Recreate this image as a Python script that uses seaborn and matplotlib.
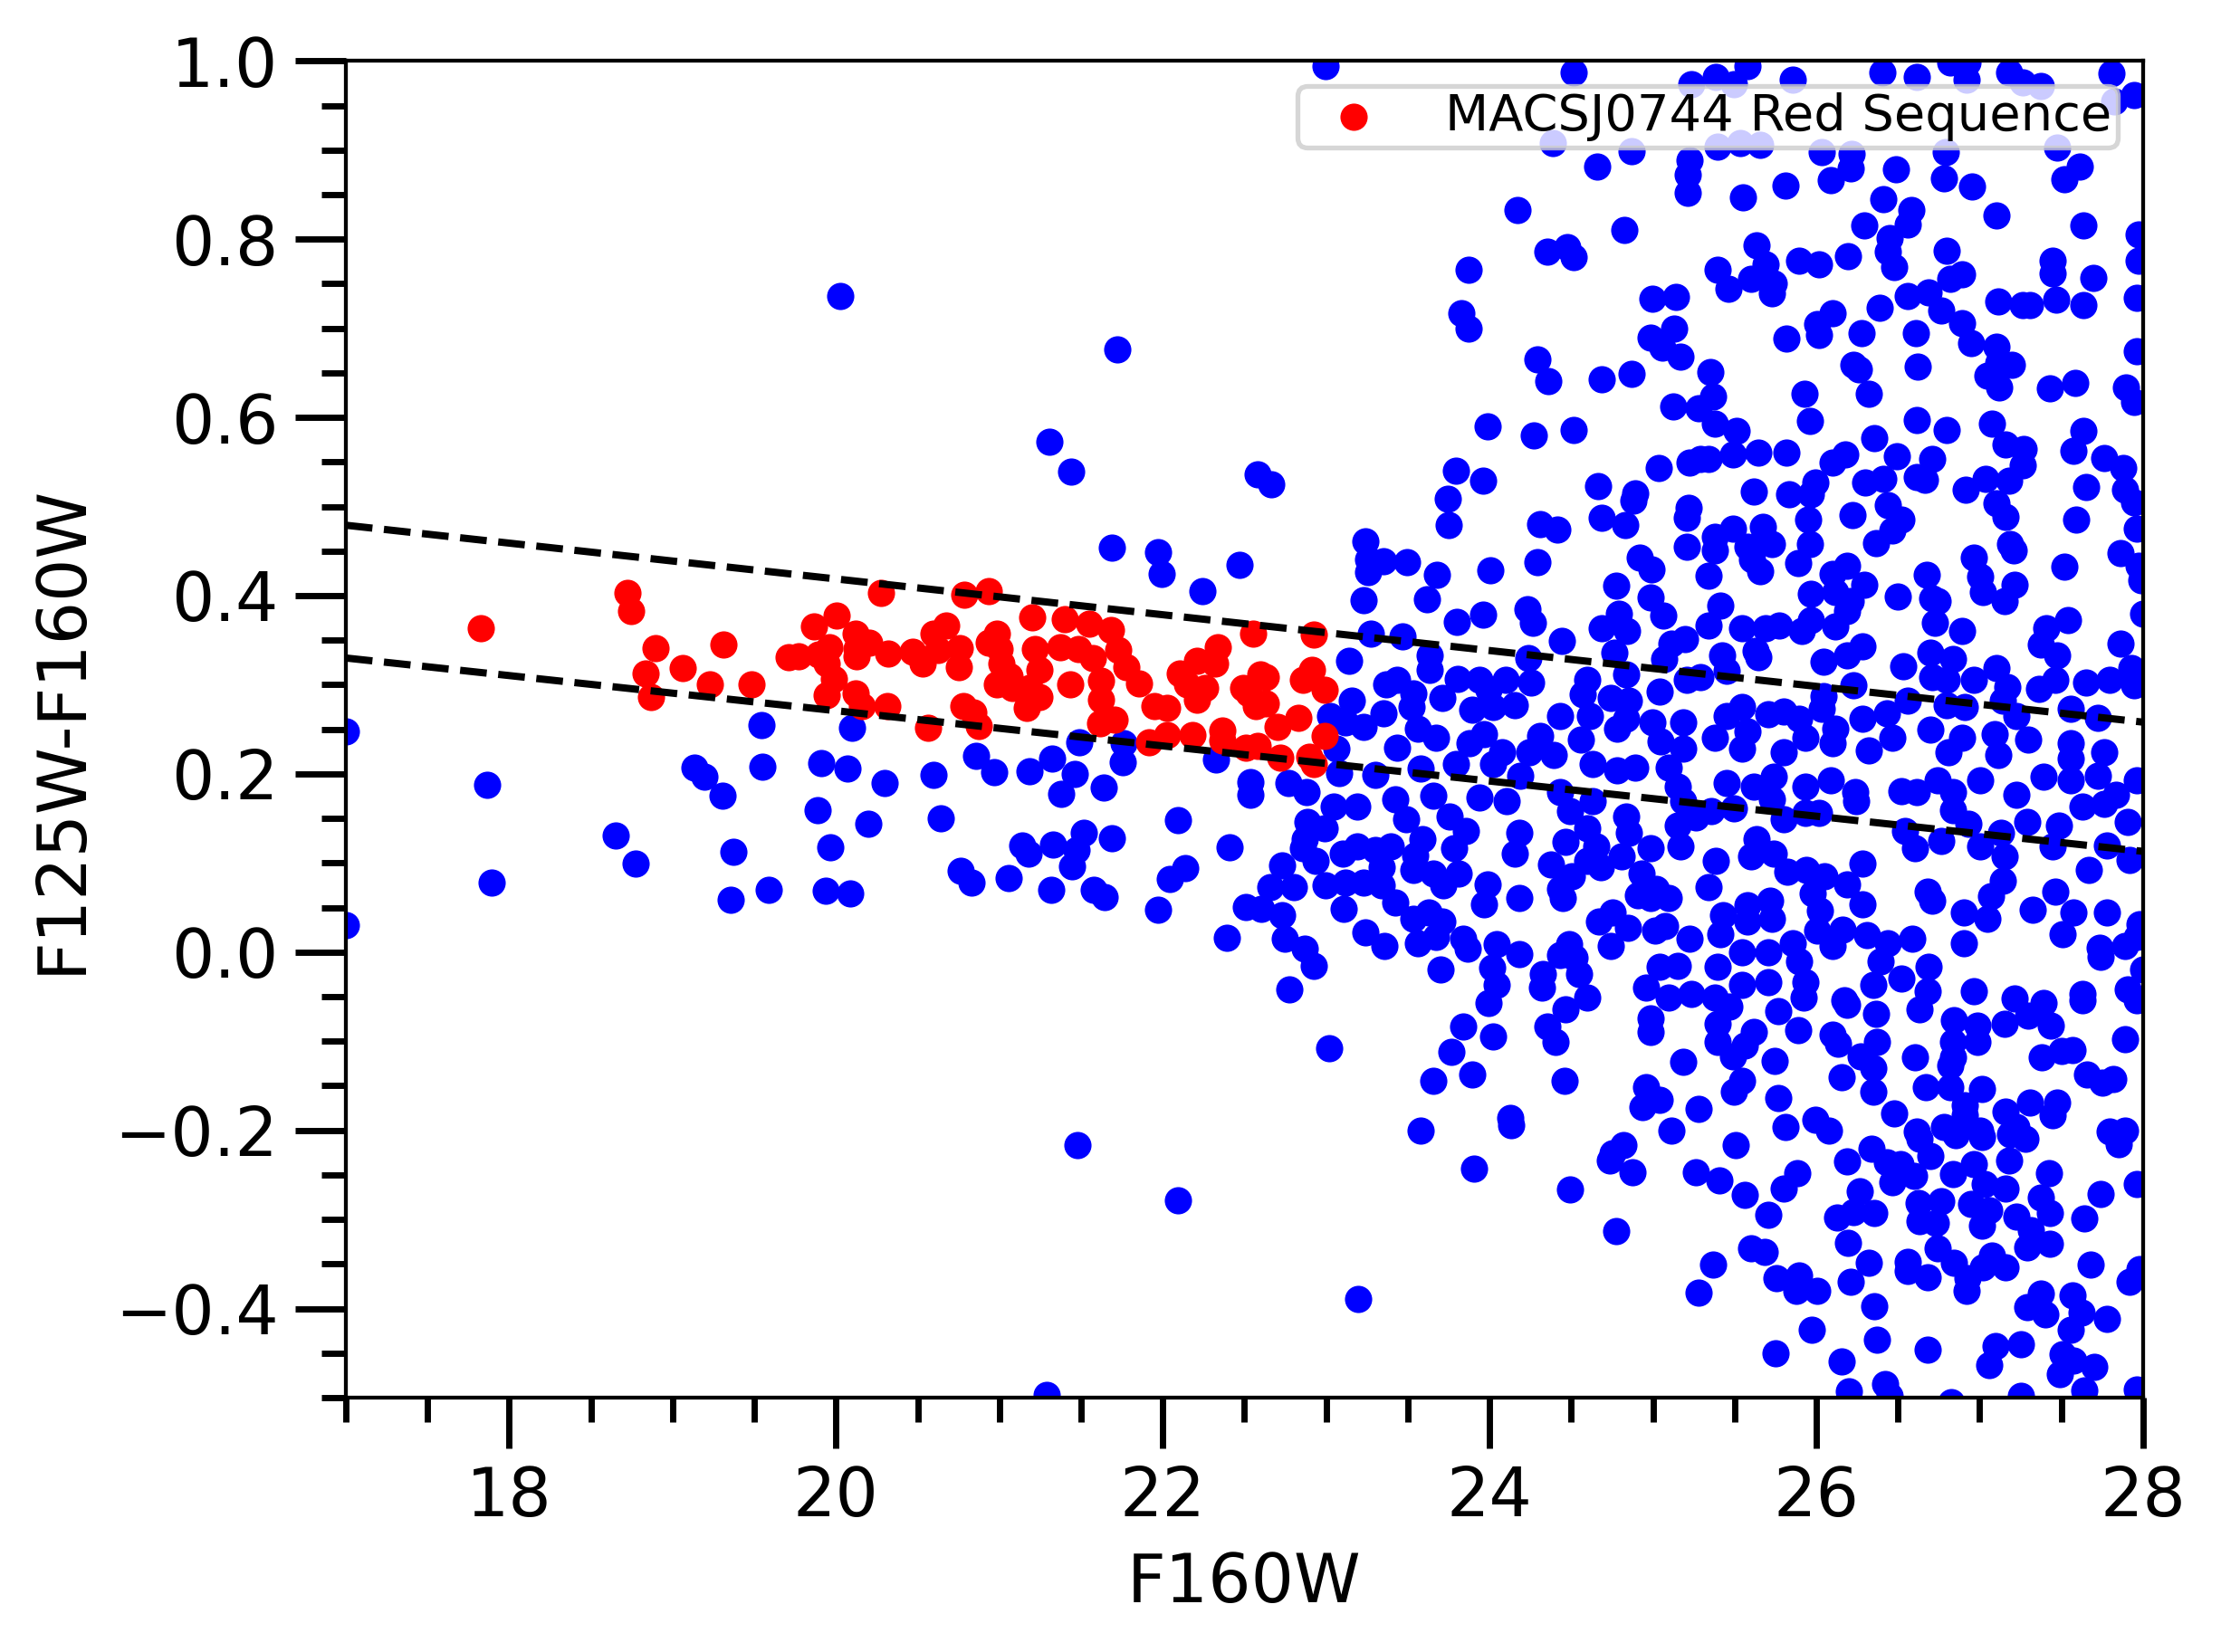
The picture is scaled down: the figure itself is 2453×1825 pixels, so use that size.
import pandas as pd
import seaborn as sns
import matplotlib.pyplot as plt
from matplotlib.ticker import MultipleLocator

# F160W magnitude and F125W-F160W colour of the field sources (blue)
# bright / sparse part of the diagram
field_bright = [
    (17.00, 0.248), (17.00, 0.030), (17.866, 0.188), (17.891, 0.078), (18.654, 0.131),
    (18.775, 0.099), (19.133, 0.207), (19.195, 0.197), (19.304, 0.175), (19.374, 0.113),
    (19.356, 0.059), (19.544, 0.255), (19.547, 0.208), (19.590, 0.070), (19.910, 0.212),
    (19.885, 0.159), (19.963, 0.118), (19.937, 0.069), (20.024, 0.736), (20.097, 0.252),
    (20.072, 0.206), (20.085, 0.066), (20.197, 0.144), (20.299, 0.190), (20.595, 0.199),
    (20.639, 0.150), (20.761, 0.091), (20.830, 0.078), (20.859, 0.220), (20.968, 0.202),
    (21.055, 0.083), (21.142, 0.120), (21.186, 0.203), (21.177, 0.110), (21.325, 0.217),
    (21.326, 0.121), (21.318, 0.070), (21.381, 0.178), (21.459, 0.200), (21.487, 0.235),
    (21.446, 0.096), (21.472, 0.115), (21.515, 0.134), (21.576, 0.070), (21.645, 0.062),
    (21.637, 0.185), (21.688, 0.128), (21.754, 0.213), (21.760, 0.234), (21.974, 0.047),
    (22.043, 0.082), (22.095, 0.148), (22.138, 0.094), (22.327, 0.216), (22.390, 0.016),
    (22.410, 0.118), (22.510, 0.051), (22.538, 0.191), (22.538, 0.176), (21.307, 0.573),
    (21.437, 0.539), (21.723, 0.676), (21.689, 0.454), (21.969, 0.449), (21.994, 0.424),
    (22.243, 0.405), (22.470, 0.435), (21.480, -0.217), (22.095, -0.279), (21.290, -0.497),
]

# faint sources, colour 0.6 .. 1.0
field_top = [
    (22.998, 0.994), (24.516, 0.987), (25.233, 0.974), (24.389, 0.908), (24.871, 0.899),
    (24.660, 0.882), (25.226, 0.889), (25.215, 0.872), (25.215, 0.852), (24.173, 0.833),
    (24.827, 0.810), (24.356, 0.786), (24.476, 0.791), (24.516, 0.780), (23.874, 0.766),
    (24.998, 0.733), (25.141, 0.735), (23.829, 0.717), (23.874, 0.700), (24.984, 0.689),
    (25.131, 0.700), (25.057, 0.678), (25.168, 0.668), (24.291, 0.665), (24.361, 0.641),
    (24.688, 0.643), (24.871, 0.649), (25.126, 0.612), (25.279, 0.610),
    (25.386, 0.982), (25.580, 0.994), (25.497, 0.974), (25.857, 0.979), (26.402, 0.987),
    (26.614, 0.982), (26.818, 0.998), (26.919, 0.979), (26.928, 0.998), (27.178, 0.987),
    (27.372, 0.972), (27.261, 0.976), (27.806, 0.986), (27.824, 0.955), (27.944, 0.962),
    (25.395, 0.904), (25.534, 0.908), (25.654, 0.906), (26.033, 0.898), (26.217, 0.896),
    (26.208, 0.879), (26.088, 0.866), (26.485, 0.878), (26.790, 0.898), (26.781, 0.868),
    (26.952, 0.859), (27.473, 0.903), (27.612, 0.881), (27.520, 0.867), (25.552, 0.847),
    (25.811, 0.860), (26.411, 0.845), (26.581, 0.833), (26.559, 0.816), (26.291, 0.815),
    (26.448, 0.801), (26.439, 0.786), (26.476, 0.769), (27.104, 0.827), (27.636, 0.815),
    (27.972, 0.805), (25.636, 0.793), (25.691, 0.772), (25.395, 0.766), (25.599, 0.756),
    (25.460, 0.744), (25.737, 0.750), (25.728, 0.739), (25.894, 0.776), (26.014, 0.772),
    (26.193, 0.781), (26.799, 0.787), (26.891, 0.761), (26.818, 0.756), (27.446, 0.776),
    (27.446, 0.762), (27.695, 0.757), (27.972, 0.776), (26.559, 0.736), (26.688, 0.740),
    (26.762, 0.720), (26.389, 0.723), (26.097, 0.717), (26.005, 0.705), (26.014, 0.693),
    (25.817, 0.688), (26.278, 0.695), (26.611, 0.695), (26.891, 0.706), (26.947, 0.683),
    (27.104, 0.679), (27.113, 0.661), (27.196, 0.659), (27.048, 0.647), (27.122, 0.634),
    (27.113, 0.730), (27.261, 0.726), (27.307, 0.726), (27.470, 0.732), (27.636, 0.726),
    (27.963, 0.734), (27.963, 0.674), (26.227, 0.659), (26.258, 0.654), (26.620, 0.657),
    (25.349, 0.651), (25.368, 0.623), (25.927, 0.627), (26.323, 0.627), (27.427, 0.633),
    (27.584, 0.639), (27.898, 0.634), (27.944, 0.617),
]

# faint sources, colour 0.2 .. 0.6
field_mid = [
    (23.986, 0.590), (24.273, 0.580), (24.516, 0.586), (22.582, 0.536), (22.666, 0.525),
    (23.792, 0.540), (23.958, 0.529), (23.746, 0.509), (23.752, 0.479), (24.310, 0.480),
    (24.417, 0.474), (24.666, 0.523), (24.891, 0.515), (24.882, 0.507), (24.688, 0.487),
    (24.832, 0.479), (25.035, 0.543), (25.224, 0.549), (25.288, 0.553), (25.218, 0.499),
    (25.205, 0.487), (25.205, 0.455), (23.242, 0.461), (23.257, 0.441), (23.349, 0.439),
    (23.497, 0.438), (23.257, 0.426), (23.229, 0.395), (23.678, 0.423), (23.617, 0.396),
    (24.005, 0.428), (24.295, 0.438), (24.919, 0.443), (24.993, 0.429), (24.777, 0.411),
    (24.984, 0.398), (25.063, 0.378), (23.802, 0.371), (23.962, 0.379), (24.232, 0.385),
    (24.263, 0.370), (24.793, 0.380), (24.688, 0.363), (24.841, 0.360), (23.275, 0.357),
    (23.465, 0.354), (23.140, 0.327), (24.443, 0.349), (24.236, 0.330), (24.762, 0.336),
    (25.113, 0.346), (25.196, 0.351), (25.067, 0.329), (23.635, 0.333), (23.635, 0.317),
    (23.367, 0.300), (23.432, 0.306), (23.534, 0.290), (23.709, 0.285), (23.805, 0.307),
    (23.940, 0.306), (24.097, 0.306), (24.254, 0.302), (23.995, 0.294), (23.894, 0.272),
    (24.023, 0.275), (24.152, 0.277), (23.155, 0.282), (23.026, 0.265), (23.118, 0.258),
    (23.229, 0.253), (23.349, 0.268), (23.525, 0.275), (23.561, 0.251), (23.063, 0.228),
    (23.432, 0.229), (23.672, 0.240), (23.968, 0.245), (23.875, 0.234), (24.079, 0.224),
    (24.310, 0.243), (24.245, 0.224), (24.393, 0.221), (24.429, 0.265), (24.568, 0.289),
    (24.596, 0.306), (24.744, 0.285), (24.836, 0.312), (24.855, 0.282), (24.614, 0.265),
    (24.781, 0.251), (24.559, 0.238), (24.836, 0.262), (24.998, 0.258), (25.039, 0.292),
    (25.187, 0.258), (25.205, 0.306), (25.288, 0.309), (25.048, 0.236), (25.187, 0.228),
    (24.633, 0.211), (24.781, 0.204), (24.891, 0.207), (25.094, 0.207), (24.023, 0.211),
    (23.580, 0.206), (23.303, 0.199), (23.081, 0.201), (23.792, 0.211),
    (25.377, 0.593), (25.515, 0.585), (25.959, 0.596), (26.614, 0.597), (26.799, 0.586),
    (27.076, 0.593), (27.636, 0.585), (25.340, 0.553), (25.488, 0.558), (25.645, 0.560),
    (25.817, 0.560), (26.352, 0.577), (26.491, 0.556), (26.707, 0.553), (26.180, 0.558),
    (26.097, 0.549), (27.159, 0.570), (27.270, 0.565), (27.575, 0.563), (27.760, 0.554),
    (27.880, 0.543), (25.617, 0.517), (25.835, 0.514), (25.996, 0.527), (25.968, 0.514),
    (26.297, 0.527), (26.411, 0.531), (26.614, 0.533), (26.666, 0.530), (27.261, 0.546),
    (27.178, 0.529), (27.039, 0.531), (26.916, 0.519), (27.104, 0.504), (27.159, 0.488),
    (27.649, 0.522), (27.889, 0.519), (27.944, 0.505), (27.593, 0.485), (25.950, 0.485),
    (26.223, 0.490), (26.439, 0.502), (26.522, 0.485), (26.467, 0.473), (26.365, 0.459),
    (27.963, 0.475), (25.377, 0.466), (25.488, 0.475), (25.672, 0.477), (25.728, 0.458),
    (25.377, 0.451), (25.580, 0.455), (25.608, 0.441), (25.654, 0.427), (25.959, 0.458),
    (25.890, 0.437), (25.340, 0.422), (27.187, 0.458), (27.206, 0.451), (26.962, 0.443),
    (27.519, 0.433), (27.861, 0.448), (27.972, 0.434), (26.190, 0.434), (26.097, 0.424),
    (26.291, 0.412), (25.968, 0.402), (26.116, 0.404), (26.208, 0.394), (26.190, 0.383),
    (26.500, 0.399), (26.675, 0.423), (27.002, 0.421), (27.021, 0.404), (27.214, 0.412),
    (27.150, 0.394), (26.707, 0.397), (26.744, 0.394), (27.990, 0.417), (25.414, 0.389),
    (25.340, 0.366), (25.543, 0.363), (25.691, 0.363), (25.774, 0.366), (25.913, 0.360),
    (25.968, 0.373), (26.116, 0.365), (26.725, 0.370), (26.891, 0.360), (27.409, 0.363),
    (27.538, 0.373), (27.999, 0.380), (27.372, 0.345), (27.473, 0.333), (27.861, 0.346),
    (25.626, 0.338), (25.645, 0.331), (26.282, 0.343), (26.190, 0.333), (26.042, 0.326),
    (25.423, 0.333), (25.451, 0.316), (26.698, 0.336), (26.836, 0.329), (26.531, 0.321),
    (26.707, 0.309), (26.799, 0.306), (26.965, 0.306), (27.104, 0.319), (27.169, 0.297),
    (27.926, 0.319), (27.944, 0.299), (27.797, 0.306), (27.649, 0.302), (27.464, 0.306),
    (27.362, 0.295), (27.556, 0.273), (27.723, 0.263), (26.227, 0.299), (26.042, 0.287),
    (26.033, 0.273), (26.559, 0.282), (26.799, 0.277), (26.910, 0.275), (27.141, 0.282),
    (27.224, 0.265), (25.543, 0.275), (25.451, 0.265), (25.709, 0.267), (25.802, 0.270),
    (25.894, 0.262), (25.580, 0.248), (25.931, 0.241), (26.116, 0.251), (26.282, 0.262),
    (26.430, 0.268), (26.467, 0.241), (26.319, 0.226), (25.377, 0.241), (25.543, 0.228),
    (25.802, 0.224), (26.097, 0.234), (26.698, 0.250), (26.891, 0.241), (26.808, 0.224),
    (27.094, 0.245), (27.113, 0.221), (27.298, 0.238), (27.556, 0.234), (27.556, 0.217),
    (27.760, 0.224),
]

# faint sources, colour -0.2 .. 0.2
field_low = [
    (22.767, 0.190), (22.878, 0.180), (23.192, 0.163), (23.044, 0.163), (22.887, 0.146),
    (22.989, 0.139), (22.869, 0.127), (22.860, 0.117), (23.423, 0.171), (23.488, 0.149),
    (23.654, 0.175), (23.755, 0.152), (23.857, 0.136), (23.783, 0.117), (23.940, 0.173),
    (24.106, 0.169), (24.189, 0.198), (23.589, 0.127), (23.543, 0.108), (24.180, 0.134),
    (24.153, 0.110), (24.430, 0.180), (24.494, 0.158), (24.633, 0.169), (24.596, 0.139),
    (24.467, 0.124), (24.651, 0.119), (24.374, 0.098), (24.596, 0.102), (24.679, 0.095),
    (24.836, 0.152), (24.855, 0.134), (24.808, 0.107), (24.984, 0.117), (25.150, 0.186),
    (25.187, 0.169), (25.261, 0.151), (25.150, 0.142), (25.168, 0.119), (22.730, 0.097),
    (22.656, 0.073), (22.804, 0.073), (22.934, 0.102), (23.100, 0.110), (23.192, 0.119),
    (23.303, 0.115), (23.395, 0.119), (23.340, 0.095), (23.229, 0.078), (22.998, 0.075),
    (23.118, 0.078), (23.340, 0.075), (23.534, 0.092), (23.654, 0.088), (23.718, 0.075),
    (23.811, 0.088), (23.986, 0.076), (23.968, 0.054), (24.180, 0.061), (24.430, 0.071),
    (24.448, 0.061), (24.504, 0.085), (24.928, 0.088), (24.910, 0.064), (24.984, 0.061),
    (25.094, 0.061), (25.020, 0.071), (22.601, 0.048), (22.730, 0.041), (23.109, 0.048),
    (23.423, 0.056), (23.534, 0.037), (23.626, 0.044), (23.709, 0.034), (22.749, 0.015),
    (22.869, 0.004), (22.924, -0.015), (22.776, -0.042), (23.238, 0.022), (23.358, 0.007),
    (23.561, 0.010), (23.672, 0.017), (23.838, 0.015), (23.866, 0.004), (23.700, -0.020),
    (24.042, 0.009), (24.180, -0.002), (24.014, -0.018), (24.042, -0.037), (23.996, -0.057),
    (24.670, 0.034), (24.753, 0.044), (24.845, 0.027), (24.744, 0.007), (25.012, 0.024),
    (25.076, 0.029), (25.224, 0.015), (24.485, 0.009), (24.430, -0.003), (24.522, -0.006),
    (24.328, -0.025), (24.550, -0.025), (24.319, -0.040), (24.596, -0.051), (24.467, -0.064),
    (25.039, -0.017), (25.150, -0.015), (24.956, -0.040), (25.094, -0.051), (25.233, -0.047),
    (24.984, -0.074), (24.984, -0.090), (23.838, -0.084), (24.020, -0.095), (23.765, -0.112),
    (23.894, -0.137), (23.654, -0.144), (23.020, -0.108), (24.356, -0.084), (24.402, -0.101),
    (24.457, -0.144), (25.187, -0.123), (24.956, -0.152), (25.039, -0.166), (24.937, -0.174),
    (25.279, -0.176), (24.125, -0.186), (24.134, -0.194), (23.576, -0.200), (25.113, -0.200),
    (25.451, 0.190), (25.617, 0.186), (25.737, 0.197), (25.931, 0.186), (26.088, 0.193),
    (25.728, 0.171), (25.802, 0.149), (25.931, 0.156), (26.014, 0.156), (25.497, 0.161),
    (25.358, 0.158), (26.236, 0.180), (26.245, 0.169), (26.522, 0.181), (26.614, 0.180),
    (26.744, 0.193), (26.836, 0.180), (26.836, 0.159), (27.002, 0.193), (27.224, 0.176),
    (27.390, 0.197), (27.556, 0.193), (27.723, 0.198), (27.963, 0.193), (27.630, 0.163),
    (27.760, 0.166), (27.834, 0.176), (27.907, 0.146), (27.289, 0.146), (27.483, 0.142),
    (26.541, 0.136), (26.606, 0.117), (26.762, 0.125), (26.929, 0.144), (27.002, 0.119),
    (27.132, 0.134), (27.150, 0.107), (27.446, 0.119), (27.778, 0.120), (27.917, 0.103),
    (27.667, 0.092), (25.636, 0.127), (25.599, 0.107), (25.737, 0.110), (25.386, 0.102),
    (25.340, 0.073), (25.820, 0.090), (25.940, 0.092), (26.051, 0.085), (26.282, 0.099),
    (25.977, 0.066), (26.190, 0.076), (26.282, 0.054), (26.024, 0.046), (26.679, 0.068),
    (26.707, 0.058), (27.141, 0.080), (27.067, 0.063), (26.901, 0.044), (27.048, 0.037),
    (26.901, 0.010), (27.464, 0.068), (27.326, 0.047), (27.575, 0.044), (27.510, 0.020),
    (27.778, 0.044), (27.981, 0.031), (27.732, 0.005), (27.741, -0.005), (27.889, 0.007),
    (27.963, 0.017), (27.999, -0.020), (25.580, 0.053), (25.719, 0.058), (25.432, 0.041),
    (25.728, 0.037), (25.580, 0.034), (25.414, 0.020), (25.543, 0.000), (25.709, 0.000),
    (25.857, 0.010), (26.005, 0.024), (26.097, 0.007), (26.162, 0.025), (26.310, 0.019),
    (26.439, 0.010), (26.587, 0.015), (26.393, -0.010), (26.522, -0.030), (26.688, -0.017),
    (26.679, -0.044), (26.633, -0.064), (26.347, -0.037), (26.365, -0.069), (26.171, -0.054),
    (26.190, -0.059), (25.395, -0.017), (25.543, -0.037), (25.709, -0.034), (25.894, -0.010),
    (25.931, -0.034), (25.922, -0.051), (25.469, -0.061), (25.377, -0.051), (25.765, -0.066),
    (25.395, -0.081), (25.617, -0.090), (25.562, -0.105), (25.395, -0.101), (25.488, -0.117),
    (25.890, -0.088), (26.097, -0.093), (26.134, -0.103), (25.746, -0.122), (26.374, -0.101),
    (26.273, -0.117), (26.347, -0.130), (26.153, -0.140), (25.543, -0.144), (25.497, -0.157),
    (25.765, -0.164), (26.347, -0.157), (26.476, -0.181), (25.996, -0.188), (26.079, -0.200),
    (25.811, -0.196), (26.605, -0.118), (26.965, -0.044), (27.215, -0.052), (27.390, -0.057),
    (27.298, -0.071), (27.150, -0.081), (27.437, -0.083), (27.630, -0.047), (27.630, -0.054),
    (27.907, -0.042), (27.963, -0.054), (27.889, -0.098), (26.845, -0.076), (26.984, -0.083),
    (26.984, -0.101), (26.836, -0.101), (26.836, -0.118), (26.818, -0.127), (27.381, -0.118),
    (27.501, -0.111), (27.566, -0.110), (27.658, -0.137), (27.815, -0.142), (27.750, -0.147),
    (26.670, -0.152), (26.818, -0.152), (27.012, -0.154), (26.910, -0.172), (26.910, -0.183),
    (27.159, -0.179), (27.307, -0.169), (27.473, -0.169), (27.446, -0.183), (26.781, -0.196),
    (27.002, -0.200), (27.224, -0.196), (27.797, -0.201), (27.889, -0.200), (26.614, -0.201),
]

# faint sources, colour below -0.2
field_bottom = [
    (23.907, -0.243), (24.494, -0.266), (24.734, -0.234), (24.817, -0.217), (24.753, -0.226),
    (24.877, -0.247), (25.261, -0.247), (24.777, -0.313), (23.198, -0.389), (25.279, -0.382),
    (25.506, -0.217), (25.405, -0.256), (25.562, -0.272), (25.802, -0.265), (25.885, -0.248),
    (25.709, -0.295), (25.599, -0.332), (25.682, -0.337), (25.368, -0.351), (25.756, -0.366),
    (25.894, -0.363), (25.876, -0.380), (26.005, -0.380), (26.186, -0.235), (26.337, -0.221),
    (26.430, -0.236), (26.513, -0.238), (26.467, -0.258), (26.596, -0.251), (26.264, -0.268),
    (26.125, -0.298), (26.227, -0.292), (26.356, -0.293), (26.193, -0.326), (26.319, -0.349),
    (26.212, -0.370), (26.356, -0.397), (26.374, -0.435), (25.974, -0.424), (25.752, -0.450),
    (26.153, -0.459), (26.421, -0.485), (26.199, -0.493), (26.679, -0.446), (26.633, -0.210),
    (26.698, -0.229), (26.855, -0.205), (27.012, -0.207), (27.187, -0.204), (27.279, -0.210),
    (27.178, -0.234), (27.424, -0.248), (27.852, -0.216), (27.963, -0.260), (26.836, -0.249),
    (26.965, -0.238), (27.030, -0.260), (27.159, -0.265), (26.624, -0.282), (26.762, -0.280),
    (26.633, -0.302), (26.734, -0.304), (26.947, -0.283), (27.058, -0.290), (27.012, -0.307),
    (27.224, -0.297), (27.372, -0.276), (27.427, -0.293), (27.289, -0.331), (27.427, -0.327),
    (27.316, -0.312), (27.741, -0.271), (27.640, -0.299), (26.744, -0.332), (26.559, -0.348),
    (26.559, -0.358), (26.679, -0.365), (26.845, -0.349), (26.919, -0.380), (26.928, -0.366),
    (27.076, -0.341), (27.021, -0.354), (27.159, -0.354), (27.677, -0.351), (27.917, -0.370),
    (27.981, -0.356), (27.372, -0.383), (27.289, -0.398), (27.400, -0.407), (27.566, -0.385),
    (27.621, -0.405), (27.778, -0.412), (27.556, -0.424), (27.095, -0.442), (27.252, -0.440),
    (27.058, -0.463), (27.510, -0.451), (27.575, -0.458), (27.704, -0.466), (27.492, -0.474),
    (27.640, -0.492), (27.252, -0.498), (26.827, -0.505), (27.963, -0.491), (26.448, -0.498),
]

# red-sequence members of MACSJ0744
red_seq = [
    (17.827, 0.363), (18.723, 0.403), (18.744, 0.383), (18.894, 0.341), (18.832, 0.313),
    (18.869, 0.286), (19.062, 0.319), (19.310, 0.345), (19.226, 0.300), (19.481, 0.300),
    (19.708, 0.331), (19.771, 0.332), (19.864, 0.365), (20.004, 0.378), (19.957, 0.342),
    (19.895, 0.334), (19.942, 0.324), (19.988, 0.307), (19.942, 0.288), (20.119, 0.357),
    (20.128, 0.340), (20.206, 0.347), (20.128, 0.332), (20.119, 0.290), (20.159, 0.276),
    (20.274, 0.403), (20.321, 0.335), (20.315, 0.276), (20.470, 0.337), (20.532, 0.324),
    (20.595, 0.357), (20.672, 0.366), (20.626, 0.339), (20.750, 0.320), (20.756, 0.341),
    (20.787, 0.401), (20.937, 0.405), (20.937, 0.347), (20.983, 0.357), (20.999, 0.340),
    (21.014, 0.324), (21.061, 0.310), (20.983, 0.300), (21.077, 0.296), (20.781, 0.276),
    (20.843, 0.269), (20.874, 0.254), (20.563, 0.252), (21.201, 0.376), (21.217, 0.340),
    (21.248, 0.317), (21.186, 0.296), (21.170, 0.274), (21.248, 0.286), (21.372, 0.342),
    (21.403, 0.374), (21.481, 0.340), (21.552, 0.368), (21.574, 0.330), (21.434, 0.300),
    (21.620, 0.305), (21.683, 0.361), (21.730, 0.339), (21.776, 0.320), (21.620, 0.283),
    (21.614, 0.257), (21.708, 0.261), (21.854, 0.301), (21.947, 0.276), (22.025, 0.274),
    (22.025, 0.244), (21.916, 0.235), (22.103, 0.313), (22.149, 0.300), (22.212, 0.327),
    (22.212, 0.283), (22.180, 0.244), (22.258, 0.296), (22.336, 0.342), (22.320, 0.324),
    (22.367, 0.249), (22.367, 0.237), (22.523, 0.290), (22.491, 0.296), (22.554, 0.357),
    (22.600, 0.312), (22.569, 0.276), (22.507, 0.229), (22.924, 0.356), (22.629, 0.309),
    (22.915, 0.317), (22.860, 0.306), (22.989, 0.294), (22.629, 0.279), (22.832, 0.263),
    (22.703, 0.253), (22.989, 0.243), (22.582, 0.231), (22.721, 0.218), (22.897, 0.219),
    (22.924, 0.211),
]

# dashed selection limits of the red sequence
limit_mag = [17.0, 28.0]
limit_upper = [0.479, 0.258]
limit_lower = [0.330, 0.113]

field = pd.DataFrame(field_bright + field_top + field_mid + field_low + field_bottom,
                     columns=['F160W', 'colour'])
red = pd.DataFrame(red_seq, columns=['F160W', 'colour'])

fig, ax = plt.subplots(figsize=(2453 / 383.3, 1825 / 383.3), dpi=383.3)
fig.subplots_adjust(left=0.1557, right=0.9649, top=0.9631, bottom=0.154)

sns.scatterplot(data=field, x='F160W', y='colour', color='blue', s=32, linewidth=0, ax=ax)
sns.scatterplot(data=red, x='F160W', y='colour', color='red', s=32, linewidth=0, ax=ax,
                label='MACSJ0744 Red Sequence')
sns.lineplot(x=limit_mag, y=limit_upper, color='black', linestyle='--', linewidth=1.5, ax=ax)
sns.lineplot(x=limit_mag, y=limit_lower, color='black', linestyle='--', linewidth=1.5, ax=ax)

ax.set_xlim(17, 28)
ax.set_ylim(-0.5, 1.0)
ax.xaxis.set_major_locator(MultipleLocator(2))
ax.xaxis.set_minor_locator(MultipleLocator(0.5))
ax.yaxis.set_major_locator(MultipleLocator(0.2))
ax.yaxis.set_minor_locator(MultipleLocator(0.05))
ax.tick_params(which='major', length=10.5, width=1.3, labelsize=14)
ax.tick_params(which='minor', length=5, width=1.3)

ax.set_xlabel('F160W', fontsize=14)
ax.set_ylabel('F125W-F160W', fontsize=14)
ax.legend(loc='upper right', fontsize=10.5, borderpad=0.12)

fig.savefig('out.png', dpi=383.3)
